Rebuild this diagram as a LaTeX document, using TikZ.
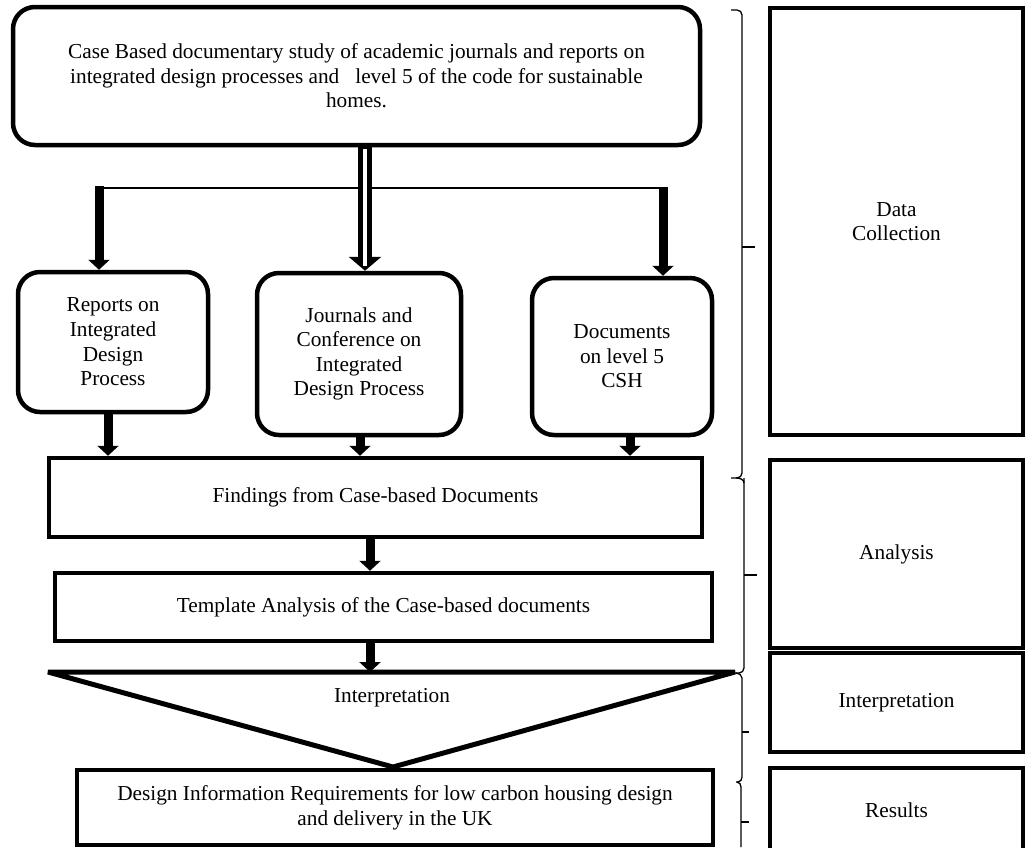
\documentclass[tikz,border=0pt]{standalone}
\usepackage{fontspec}
\setmainfont{Liberation Serif}
\usetikzlibrary{arrows.meta,calc}
\begin{document}
\begin{tikzpicture}[x=1pt,y=-1pt,
  txt/.style={font=\fontsize{21.3}{24.6}\selectfont},
  box/.style={draw, line width=4.5pt, inner sep=0pt, align=center, txt},
  rbox/.style={box, rounded corners=22pt},
  thickarrow/.style={line width=9pt, -{Triangle[width=21pt,length=10pt]}},
  brc/.style={line width=1.3pt},
  tick/.style={line width=2.2pt}]
\useasboundingbox (0,0) rectangle (1026,847);

% left column
\node[rbox, minimum width=687pt, minimum height=138pt] (top) at (356.5,76)
  {Case Based documentary study of academic journals and reports on\\integrated design processes and\ \ \ level 5 of the code for sustainable\\homes.};
\node[rbox, minimum width=190pt, minimum height=140pt] (b1) at (113,342)
  {Reports on\\Integrated\\Design\\Process};
\node[rbox, minimum width=204pt, minimum height=162pt] (b2) at (359,354)
  {Journals and\\Conference on\\Integrated\\Design Process};
\node[rbox, minimum width=180pt, minimum height=157pt] (b3) at (622,356.5)
  {Documents\\on level 5\\CSH};
\node[box, minimum width=653pt, minimum height=79pt] (f) at (375.5,497.5)
  {Findings from Case-based Documents};
\node[box, minimum width=657pt, minimum height=68pt] (t) at (383.5,607)
  {Template Analysis of the Case-based documents};
\coordinate (tl) at (48,672);
\coordinate (tr) at (735,672);
\coordinate (tb) at (393,767);
\draw[line width=5pt, line join=bevel] (tl) -- (tr) -- (tb) -- cycle;
\node[txt, inner sep=0pt] (interp) at (392,698) {Interpretation};
\node[box, minimum width=636pt, minimum height=75pt] (res) at (395,807.5)
  {Design Information Requirements for low carbon housing design\\and delivery in the UK};

% right column
\node[box, minimum width=253pt, minimum height=427pt] (rdc) at (896.5,221.5) {Data\\Collection};
\node[box, minimum width=253pt, minimum height=188pt] (ran) at (896.5,554) {Analysis};
\node[box, minimum width=253pt, minimum height=99pt] (rin) at (896.5,702.5) {Interpretation};
\node[box, minimum width=253pt, minimum height=84pt] (rre) at (896.5,810) {Results};

% connectors from top box
\coordinate (j1) at (99,188);
\coordinate (j3) at (663,188);
\draw[line width=1.8pt] (j1) -- (j3);
\draw[thickarrow] ([yshift=2pt]j1) -- (j1 |- b1.north);
\draw[thickarrow] ([yshift=1pt]j3) -- (j3 |- b3.north);
\coordinate (dtop) at ([xshift=8.5pt]top.south);
\coordinate (dbot) at (dtop |- b2.north);
\draw[line width=14pt, -{Triangle[width=32pt,length=14pt]}] (dtop) -- (dbot);
\draw[white, line width=4.5pt] ($(dtop)+(0,2)$) -- ($(dbot)+(0,-5)$);

% boxes to findings
\coordinate (a1) at ([xshift=-5pt]b1.south);
\coordinate (a2) at ([xshift=1pt]b2.south);
\coordinate (a3) at ([xshift=8pt]b3.south);
\draw[thickarrow] (a1) -- (a1 |- f.north);
\draw[thickarrow] (a2) -- (a2 |- f.north);
\draw[thickarrow] (a3) -- (a3 |- f.north);
\coordinate (a4) at ([xshift=-5.5pt]f.south);
\draw[thickarrow] (a4) -- (a4 |- t.north);
\coordinate (a5) at ([xshift=-13.5pt]t.south);
\draw[thickarrow] (a5) -- (a5 |- tl);

% braces
\draw[brc] (731,10) -- (737,10) to[out=0,in=90] (742,15) -- (742,473) to[out=-90,in=0] (737,478) -- (731,478);
\draw[tick] (742,247) -- (755,247);
\draw[brc] (744,478) -- (744,668) to[out=-90,in=0] (739,673) -- (733,673);
\draw[brc] (736,478) to[out=0,in=90] (744,483);
\draw[tick] (744,575) -- (757,575);
\draw[brc] (736,673) to[out=0,in=90] (742,678) -- (742,777) to[out=-90,in=0] (738,782) -- (736,782);
\draw[tick] (742,732) -- (749,732);
\draw[brc] (737,782) to[out=0,in=90] (741,787) -- (741,847);
\draw[tick] (741,822) -- (749,822);
\end{tikzpicture}
\end{document}
